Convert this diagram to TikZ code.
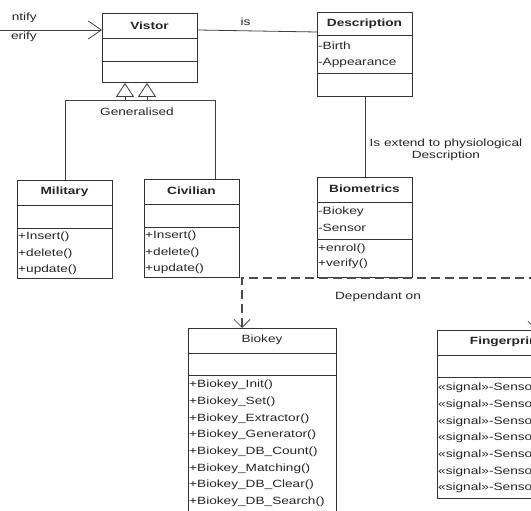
\documentclass[tikz,border=0pt]{standalone}
\usepackage{fontspec}
\setmainfont{Liberation Sans}[FakeStretch=1.3]
\usetikzlibrary{arrows.meta}

\tikzset{
  classbox/.style={draw=black!80, line width=0.9pt, anchor=north west, inner sep=0pt, minimum width=95pt},
  ctitle/.style={font=\fontsize{10.5pt}{12pt}\selectfont\bfseries, text=black!85},
  member/.style={anchor=west, inner sep=1pt, text=black!85},
  divider/.style={draw=black!80, line width=0.8pt},
  rel/.style={draw=black!75, line width=0.8pt},
  depline/.style={draw=black!70, line width=1.3pt, dash pattern=on 9pt off 5pt},
}

\begin{document}
\begin{tikzpicture}[x=1pt, y=-1pt, font=\fontsize{10.5pt}{12pt}\selectfont]
    % Frame
    \useasboundingbox (0,0) rectangle (531,511);
    \fill[white] (0,0) rectangle (531,511);
    \clip (0,0) rectangle (531,511);

    % Classes
    \node[classbox, minimum height=69pt] (vistor) at (102,13) {};
    \draw[divider] (102,38) -- (197,38);
    \draw[divider] (102,61) -- (197,61);
    \node[ctitle] (vistortitle) at (149.5,26) {Vistor};

    \node[classbox, minimum height=84pt] (description) at (317,12) {};
    \draw[divider] (317,35) -- (412,35);
    \draw[divider] (317,73) -- (412,73);
    \node[ctitle] (desctitle) at (364.5,23.5) {Description};
    \node[member] (birth) at (317,46) {-Birth};
    \node[member] (appearance) at (317,63) {-Appearance};

    \node[classbox, minimum height=98pt] (military) at (17,180) {};
    \draw[divider] (17,205) -- (112,205);
    \draw[divider] (17,228) -- (112,228);
    \node[ctitle] (miltitle) at (64.5,192) {Military};
    \node[member] (milins) at (17,237) {+Insert()};
    \node[member] (mildel) at (17,253.5) {+delete()};
    \node[member] (milupd) at (17,270) {+update()};

    \node[classbox, minimum height=98pt] (civilian) at (144,179) {};
    \draw[divider] (144,204) -- (239,204);
    \draw[divider] (144,227) -- (239,227);
    \node[ctitle] (civtitle) at (191.5,191) {Civilian};
    \node[member] (civins) at (144,236) {+Insert()};
    \node[member] (civdel) at (144,252.5) {+delete()};
    \node[member] (civupd) at (144,269) {+update()};

    \node[classbox, minimum height=100pt] (biometrics) at (317,177) {};
    \draw[divider] (317,202) -- (412,202);
    \draw[divider] (317,239) -- (412,239);
    \node[ctitle] (biotitle) at (364.5,189) {Biometrics};
    \node[member] (biobiokey) at (317,212) {-Biokey};
    \node[member] (biosensor) at (317,228) {-Sensor};
    \node[member] (bioenrol) at (317,249) {+enrol()};
    \node[member] (bioverify) at (317,264) {+verify()};

    \node[classbox, minimum width=148pt, minimum height=200pt] (biokey) at (188,328) {};
    \draw[divider] (188,353) -- (336,353);
    \draw[divider] (188,375) -- (336,375);
    \node[text=black!85] (biokeytitle) at (262,340) {Biokey};
    \foreach \m [count=\i from 0] in {Init,Set,Extractor,Generator,DB\_Count,Matching,DB\_Clear,DB\_Search}
        \node[member] at (188,{385+16.7*\i}) {+Biokey\_\m()};

    \node[classbox, minimum width=138pt, minimum height=168pt] (fingerprint) at (437,330) {};
    \draw[divider] (437,355) -- (575,355);
    \draw[divider] (437,377) -- (575,377);
    \node[ctitle] (fingertitle) at (506,342) {Fingerprint};
    \foreach \i in {0,...,6}
        \node[member] at (437,{388+16.7*\i}) {«signal»-Sensor};

    % Incoming association
    \coordinate (leftin) at (0,30);
    \node[anchor=east, inner sep=0pt, text=black!85] (identify) at (37,18) {ntify};
    \node[anchor=east, inner sep=0pt, text=black!85] (verify) at (37,37) {erify};
    \draw[rel, -{Straight Barb[length=13pt, width=18pt, line width=0.8pt]}] (leftin) -- (leftin -| vistor.west);

    % Association
    \draw[rel] ([yshift=-17pt]vistor.north east) -- ([yshift=-20pt]description.north west)
        node[pos=0.4, above=1pt, text=black!85] {is};

    % Generalisation
    \coordinate (genl) at (125,100);
    \coordinate (genr) at (147,100);
    \draw[rel, -{Triangle[open, length=14pt, width=18pt]}] (military.north) |- (genl) -- (genl |- vistor.south);
    \draw[rel, -{Triangle[open, length=14pt, width=18pt]}] ([xshift=23.5pt]civilian.north) |- (genr) -- (genr |- vistor.south);
    \draw[rel] (genl) -- (genr);
    \node[text=black!85] (generalised) at (137,112) {Generalised};

    % Extension
    \draw[rel] (description.south) -- (biometrics.north)
        node[pos=0.66, right=1pt, align=center, text=black!85] {Is extend to physiological\\Description};

    % Dependency
    \coordinate (dep) at (242,278);
    \coordinate (depr) at (536,278);
    \draw[depline, {Straight Barb[length=8pt, width=16pt, line width=0.8pt]}-{Straight Barb[length=8pt, width=16pt, line width=0.8pt]}]
        (biokey.north -| dep) -- (dep) -- (depr) -- (fingerprint.north -| depr);
    \node[text=black!85] (dependant) at (378,297) {Dependant on};
\end{tikzpicture}
\end{document}
